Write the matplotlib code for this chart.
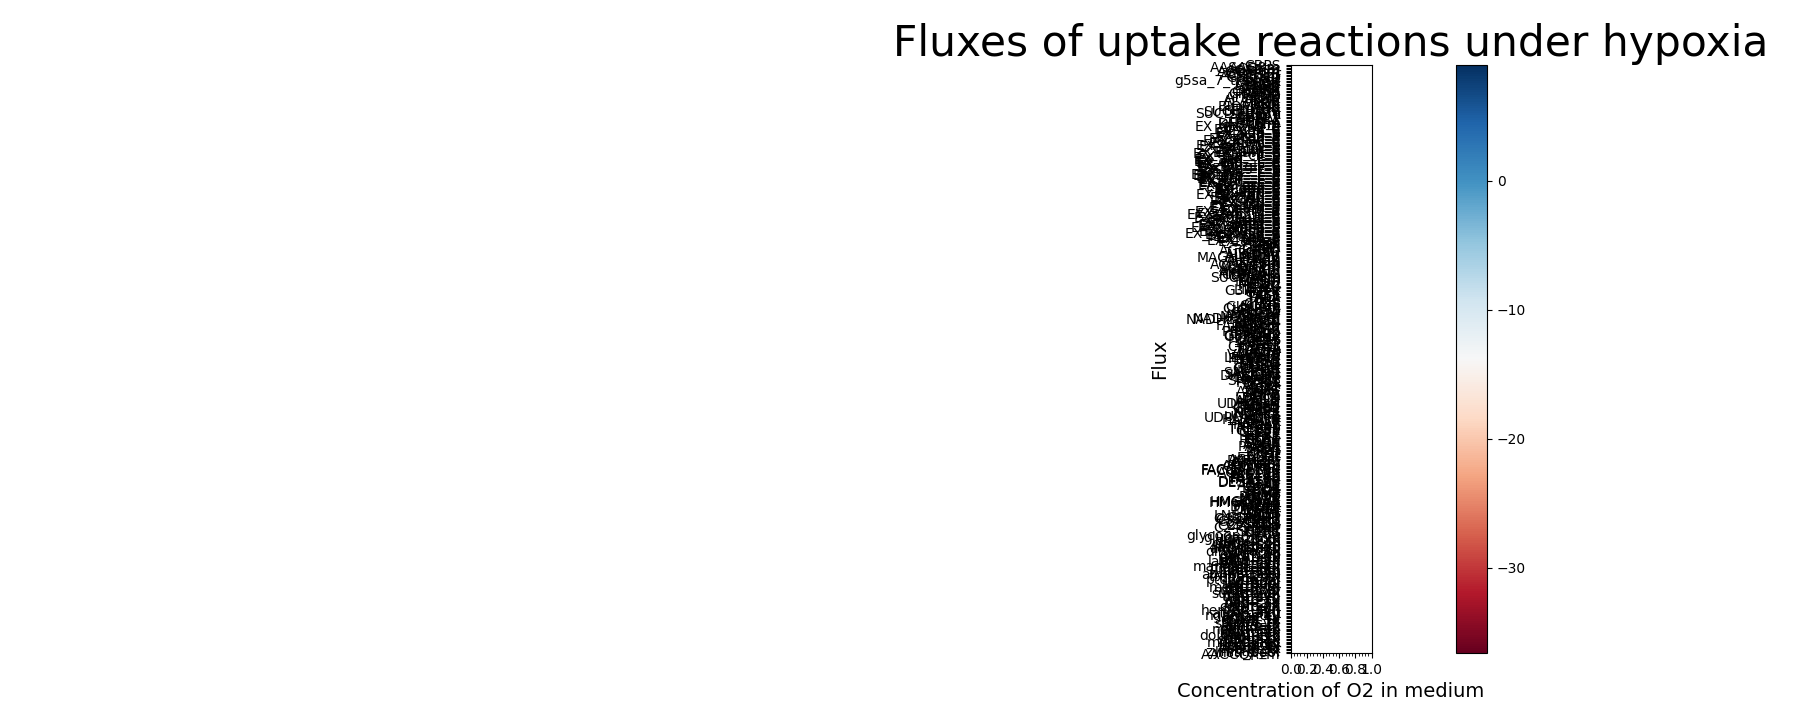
import numpy as np
import matplotlib
matplotlib.use("Agg")
import matplotlib.pyplot as plt
from matplotlib.ticker import MultipleLocator

# reaction names, listed from the top of the axis to the bottom
top_rxns = ["CBPS", "AASAD3m", "ACGKm", "AGPRim", "ACOTAim", "GHMT2r",
            "CYSTS", "ACHBSm", "G5SADr", "G5SD", "g5sa_7_transpt", "GLU5K",
            "P5CR", "GLUDy", "ASNS1", "ASPK", "ASAD", "HSK", "CHORS",
            "CHORM", "PPND2", "GND", "ATPS3m", "ATPM", "ALATA_L", "ALAR",
            "PGK", "PGM", "BIOMASS", "PYK", "PYRDC", "SUCCtm", "SUCFUMtm",
            "SUCD2_u6m", "SERD_L", "SERAT", "SHSL1", "SHSL2", "THRA",
            "THRD_L", "DHAD1m", "KARA1im"]

exchange_rxns = ["EX_glc__D_e", "EX_o2_e", "EX_nh4_e", "EX_pi_e", "EX_so4_e",
                 "EX_h2o_e", "EX_h_e", "EX_co2_e", "EX_etoh_e", "EX_ac_e",
                 "EX_acald_e", "EX_glyc_e", "EX_succ_e", "EX_lac__D_e",
                 "EX_lac__L_e", "EX_for_e", "EX_pyr_e", "EX_akg_e",
                 "EX_fum_e", "EX_mal__L_e", "EX_cit_e", "EX_ala__L_e",
                 "EX_arg__L_e", "EX_asn__L_e", "EX_asp__L_e", "EX_cys__L_e",
                 "EX_gln__L_e", "EX_glu__L_e", "EX_gly_e", "EX_his__L_e",
                 "EX_ile__L_e", "EX_leu__L_e", "EX_lys__L_e", "EX_met__L_e",
                 "EX_phe__L_e", "EX_pro__L_e", "EX_ser__L_e", "EX_thr__L_e",
                 "EX_trp__L_e", "EX_tyr__L_e", "EX_val__L_e", "EX_orn_e",
                 "EX_ura_e", "EX_ade_e", "EX_gua_e", "EX_hxan_e", "EX_xan_e",
                 "EX_thymd_e", "EX_uri_e", "EX_cytd_e", "EX_adn_e",
                 "EX_gsn_e", "EX_ins_e", "EX_fru_e", "EX_gal_e", "EX_man_e",
                 "EX_malt_e", "EX_sucr_e", "EX_tre_e", "EX_xyl__D_e",
                 "EX_rib__D_e", "EX_arab__L_e", "EX_mnl_e", "EX_sbt__D_e",
                 "EX_inost_e", "EX_chol_e", "EX_etha_e", "EX_ergst_e",
                 "EX_zymst_e", "EX_lanost_e", "EX_ocdcea_e", "EX_hdca_e",
                 "EX_ttdca_e", "EX_ocdca_e", "EX_pnto__R_e", "EX_ribflv_e",
                 "EX_thm_e", "EX_nac_e", "EX_btn_e", "EX_4abz_e", "EX_fe2_e"]

core_rxns = ["ADK1", "PGI", "FBA", "TPI", "GAPD", "AGGPRm", "ENO", "PDHm",
             "ALCD2ir", "ALDD2y", "MAGHPMTm", "PDCm", "ALCD2x", "ACS",
             "CSm", "ACONT2m", "DSNTPm", "ACONTm", "ICDHxm", "ICDHy",
             "AKGDam", "AKGDbm", "CDPDAG", "CDSPm", "SUCOASm", "FUMm",
             "MDHm", "MDH", "ME1m", "ME2m", "PC", "PPCK", "LTA4Hr", "G3PD1ir",
             "G3PT", "GLYK", "TKT1", "TKT2", "TALA", "RPE", "RPI", "PGL",
             "GLNS", "GLYCL", "GLYCLm", "CLPNSm", "CLPNS", "GLUSx", "GLUDxi",
             "ASPTA", "ASPTAm", "NADHtru", "NADH2_u6m", "NADH2_u6cm",
             "ARGSL", "ARGSS", "OCBTi", "FADH2tm", "FADtm", "FMNAT",
             "ORNTA", "PRO1xm", "P5CDm", "HSDx", "G6PDH2", "G6PDHy",
             "HSERTA", "THRS", "METS", "METAT", "AHCi", "CYSTL", "CYSTGL",
             "TYRTA", "TYRTAi", "TOLtm", "VALTA", "VALTAm", "LEUTA",
             "LEUTAm", "PHETA1", "PPNDH", "TRPS1", "TRPS2", "HISTD",
             "HISTP", "GLUt2r", "GLUDC", "IGPDH", "LYSt", "SACCD1", "SACCD2",
             "DHAPTm", "DHAPT", "DHQS", "SHK3Dr", "SHKK", "PSCVT", "DDPA",
             "ACt2r", "ACKr", "PTAr", "ANS", "ANPRT", "PRAIi", "IGPS",
             "LACZ", "LDH_D", "DLDH", "ADSL1", "ADSL2", "UDPGDm", "UDPGD",
             "ADSS", "IMPD", "GMPS2", "CTPS1", "UMPK", "NDPK1", "NDPK2",
             "UDPG4E", "UDPGALTm", "HASPTm", "GALU", "GALK", "GALT", "HCO3E",
             "PGMT", "TRE6PS", "TRE6PP", "GLCS1", "GLCt1", "PFK", "FBP",
             "HEX1", "HEX7", "FRD1", "FRDm", "SO4ti", "SADT", "ADSK",
             "PAPSR", "SULR", "PIt2r", "PPA", "NH4t", "O2t", "CO2t", "H2Ot",
             "ETOHt", "ACALDt", "PYRt2m", "MALtm", "CITtam", "AKGMAL",
             "ORNt3m", "ARGt", "FACOAL160", "FACOAL180", "ACCOACr",
             "FAS100", "FAS120", "FAS140", "FAS160", "FAS180", "DESAT16",
             "DESAT18", "GPAM", "AGPAT", "PAPA", "DAGK", "CDS", "PSSA",
             "PSD", "PEMT", "PLMT", "PINOS", "MI1PP", "MI1PS", "HMGCOAS",
             "HMGCOAR", "MEVK1", "PMEVK", "DPMVD", "IPDDI", "DMATT", "GRTT",
             "SQLS", "SQLEr", "LNS14DM", "C14STR", "C4STMO1", "C3STDH1",
             "C3STKR1", "C8STI", "C5STDS", "C22STDS", "C24STRer", "SPTr",
             "KDSR", "SBPP1", "CERS", "IPCS"]

bottom_rxns = ["glycogen_syn", "glucan_syn", "gly_pool", "glyc3p_tx",
               "lipid_sc", "chitin_syn", "ergst_syn", "acyl_pool",
               "4a-HCbiop", "ald_dehyd", "aldhy_tx", "dihydro_ox",
               "dhf_red", "gem_syn", "geran_tx", "gen_pool", "dna_syn",
               "lalpha_tx", "lanost_syn", "lipid_syn", "lalp_pool",
               "mannan_syn", "malcoa_tx", "mal_pool", "prot_syn", "rna_syn",
               "zymst_syn", "amino_pool", "trehal_syn", "glc_tx",
               "ptd1ino_sc", "pe_pool", "pc_pool", "ps_pool", "tag_pool",
               "mlthf_tx", "methf_syn", "thf_pool", "sucr_hydr", "succ_tx",
               "sucd_pool", "ribfl_syn", "thm_syn", "fol_syn", "pnto_tx",
               "nadh_tx", "nadp_tx", "nad_syn", "nmn_tx", "coa_pool",
               "fad_syn", "fmn_syn", "hemeA_syn", "q6_syn", "atp_maint",
               "ngam_pool", "bmas_tx", "gthrd_tx", "gthox_tx", "spmd_tx",
               "ptrc_tx", "sprm_syn", "amet_tx", "ahcys_tx", "nicrnt_tx",
               "ncam_syn", "ppi_pool", "glygn_tx", "dolp_syn", "dolmanp_tx",
               "gpi_syn", "cer_pool", "sphgn_tx", "psphings", "mip2c_syn",
               "ipc_pool", "sterol_tx", "fecost_tx", "episte_tx", "ergtetr",
               "zymstnl_tx", "lnstl_pool", "AACCOATm"]

reactions = top_rxns + exchange_rxns + core_rxns + bottom_rxns

# colour range of the flux colour bar
flux_min = -36.6
flux_max = 9.0
o2_step = 0.04

fig = plt.figure(figsize=(18, 7.2), dpi=100)
ax = fig.add_axes([0.717, 0.093, 0.045, 0.817])
cax = fig.add_axes([0.809, 0.093, 0.0172, 0.817])

ax.set_yticks(np.arange(len(reactions)))
ax.set_yticklabels(reactions[::-1])
ax.set_xlim(0, 1)
ax.xaxis.set_major_locator(MultipleLocator(0.2))
ax.xaxis.set_minor_locator(MultipleLocator(o2_step))
ax.tick_params(axis="x", which="minor", length=2)

ax.set_title("Fluxes of uptake reactions under hypoxia", fontsize=30.5)
ax.set_xlabel("Concentration of O2 in medium", fontsize=14)
ax.set_ylabel("Flux", fontsize=14)

sm = plt.cm.ScalarMappable(cmap="RdBu",
                           norm=plt.Normalize(vmin=flux_min, vmax=flux_max))
fig.colorbar(sm, cax=cax)

fig.savefig("out.png", dpi=100)
